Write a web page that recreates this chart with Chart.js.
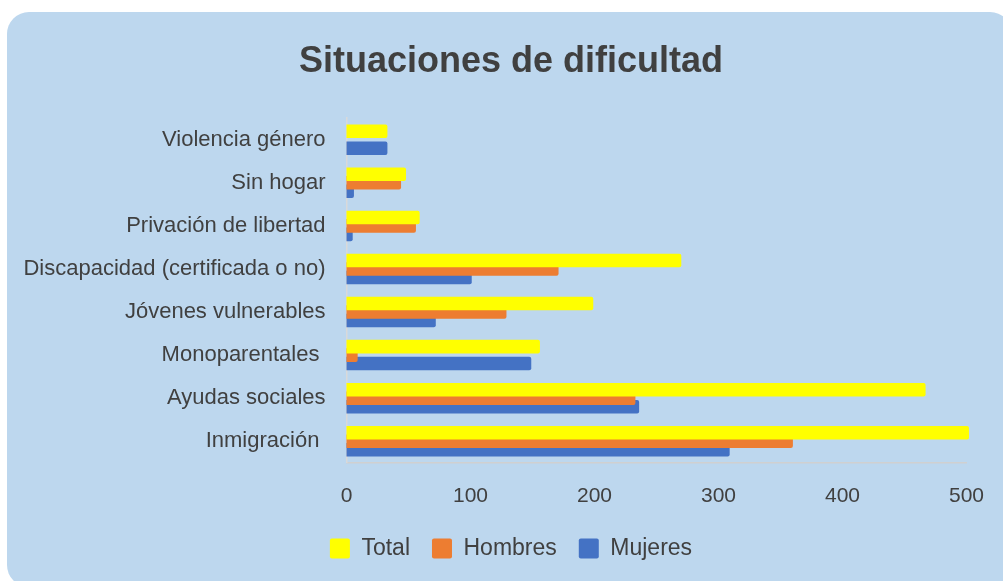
<!DOCTYPE html>
<html>
<head>
<meta charset="utf-8">
<script src="https://cdn.jsdelivr.net/npm/chart.js@4"></script>
<style>
  body { margin: 0; background: #fff; overflow: hidden; width: 1003px; height: 581px; position: relative; }
  #card { position: absolute; left: 7px; top: 12px; width: 1005px; height: 575px; border-radius: 22px; background: #BDD7EE; }
  #situacionesChart { position: absolute; left: 0; top: 0; }
</style>
</head>
<body>
<div id="card"></div>
<canvas id="situacionesChart" width="1022" height="581"></canvas>
<script>
const categories = [
    "Violencia género", "Sin hogar", "Privación de libertad", "Discapacidad (certificada o no)",
    "Jóvenes vulnerables", "Monoparentales ", "Ayudas sociales", "Inmigración "
];
const total   = [33, 48, 59, 270, 199, 156, 467, 502];
const hombres = [0, 44, 56, 171, 129, 9, 233, 360];
const mujeres = [33, 6, 5, 101, 72, 149, 236, 309];
const xTicks  = [0, 100, 200, 300, 400, 500];

const textColor = '#404040';
const font = "'Liberation Sans', Arial, sans-serif";

let situacionesChart;

// y labels are clipped to the axis box, let them use the left margin too
const wideLabels = {
    id: 'wideLabels',
    afterLayout(chart) {
        chart.scales.y.left = 0;
    }
};

function drawChart() {
    const ctx = document.getElementById('situacionesChart').getContext('2d');

    const barStyle = {
        categoryPercentage: 0.59,
        barPercentage: 1.6,
        borderRadius: 2,
        borderSkipped: 'start',
        clip: false
    };

    situacionesChart = new Chart(ctx, {
        type: 'bar',
        data: {
            labels: categories,
            datasets: [
                { label: 'Total', data: total, backgroundColor: '#FFFF00', ...barStyle },
                { label: 'Hombres', data: hombres, backgroundColor: '#ED7D31', ...barStyle },
                { label: 'Mujeres', data: mujeres, backgroundColor: '#4472C4', ...barStyle }
            ]
        },
        options: {
            indexAxis: 'y',
            responsive: false,
            animation: false,
            layout: {
                padding: { left: 55.5, right: 55.5, top: 18, bottom: 11 }
            },
            scales: {
                x: {
                    min: 0,
                    max: 500,
                    afterBuildTicks: (axis) => { axis.ticks = xTicks.map(v => ({ value: v })); },
                    // labels stay put, the legend may sit a bit closer
                    afterFit: (axis) => { axis.height -= 15; },
                    grid: { display: false, drawTicks: false },
                    border: { color: '#D0D0D0', width: 1.5 },
                    ticks: { color: textColor, font: { family: font, size: 21 }, padding: 21 }
                },
                y: {
                    afterFit: (axis) => { axis.width = 291; },
                    grid: { display: false, drawTicks: false },
                    border: { color: '#D9D9D9', width: 1.5 },
                    ticks: { color: textColor, font: { family: font, size: 22 }, padding: 21 }
                }
            },
            plugins: {
                title: {
                    display: true,
                    text: 'Situaciones de dificultad',
                    color: textColor,
                    font: { family: font, size: 36, weight: 'bold' },
                    padding: { top: 22, bottom: 35 }
                },
                legend: {
                    position: 'bottom',
                    labels: {
                        color: textColor,
                        font: { family: font, size: 23 },
                        boxWidth: 20,
                        boxHeight: 20,
                        padding: 22,
                        useBorderRadius: true,
                        borderRadius: 2
                    }
                },
                tooltip: { enabled: false }
            }
        },
        plugins: [wideLabels]
    });
}

drawChart();
</script>
</body>
</html>
